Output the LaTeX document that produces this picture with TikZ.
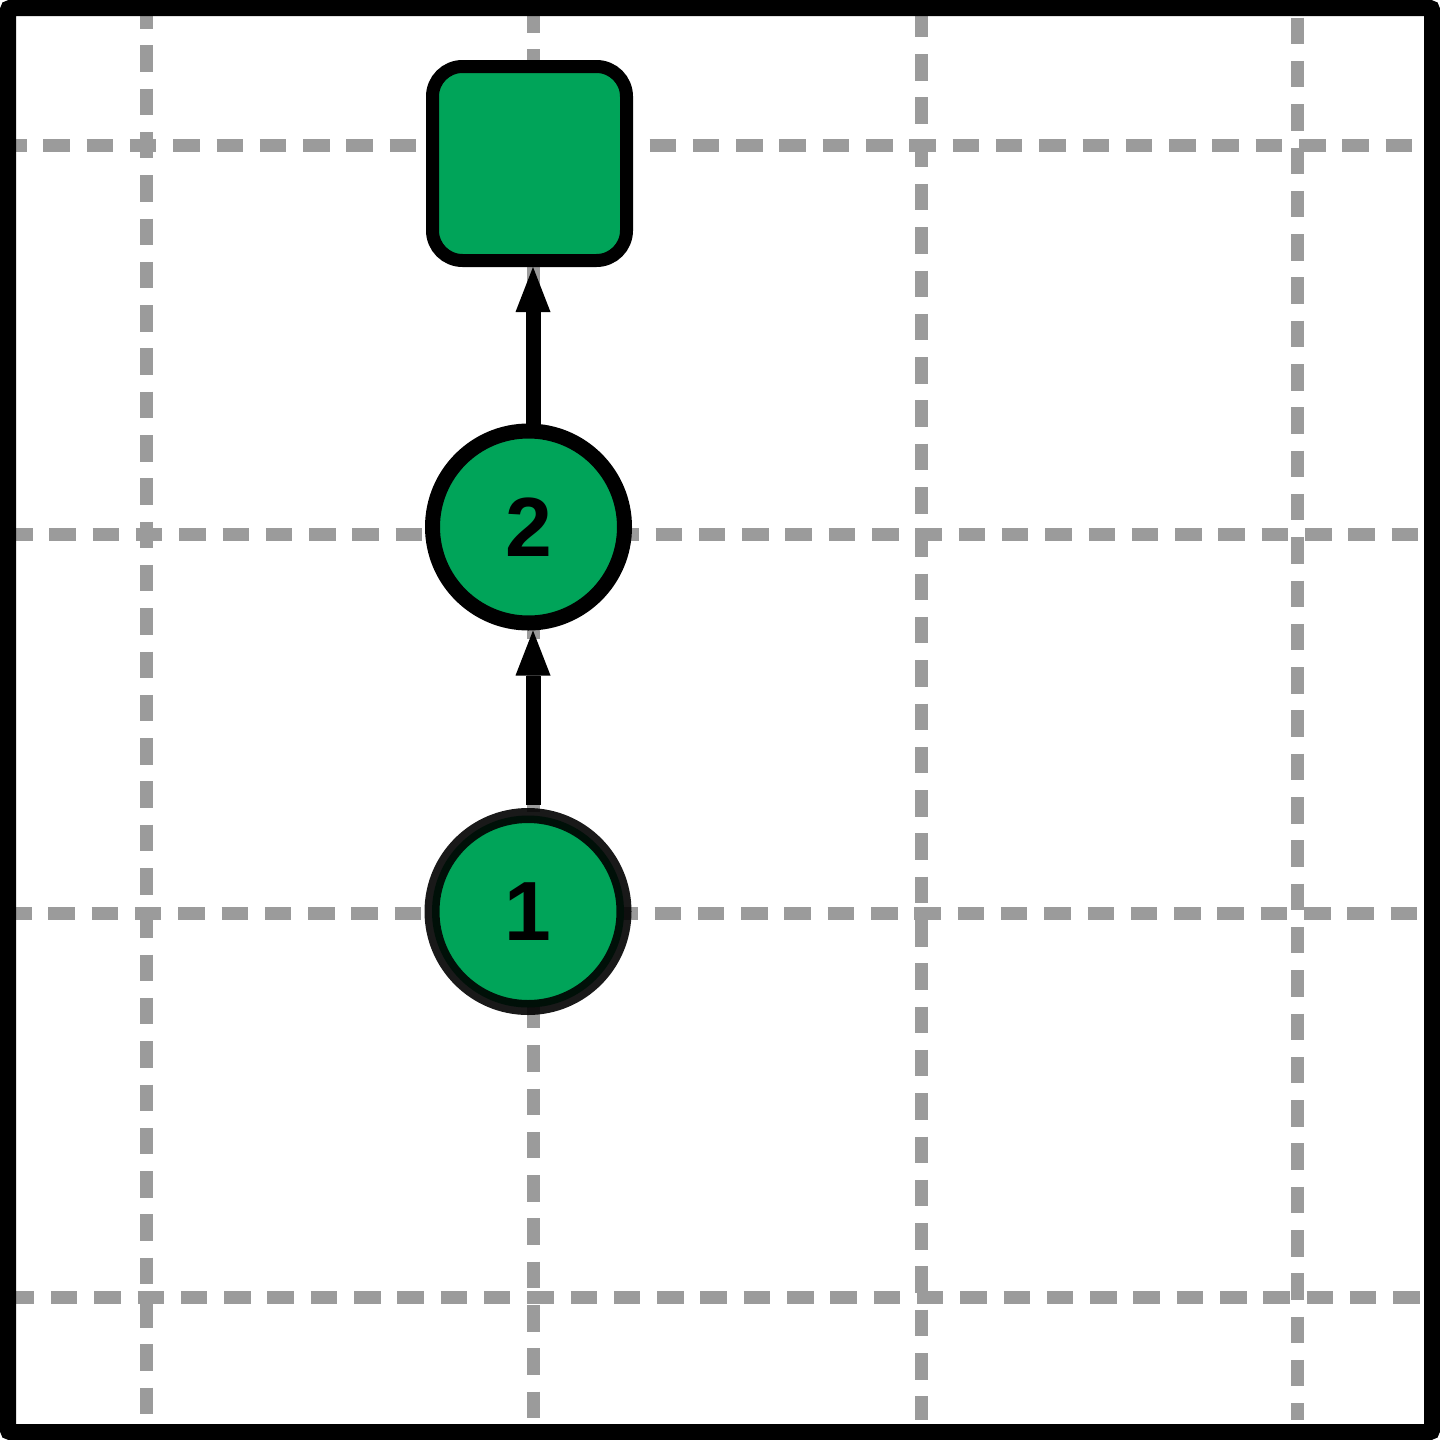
\documentclass[tikz,border=0pt]{standalone}
\usepackage{fontspec}
\setmainfont{Liberation Sans}
\usetikzlibrary{arrows.meta}
\definecolor{nodegreen}{RGB}{0,164,89}
\definecolor{gridgray}{RGB}{155,155,155}
\tikzset{
  gridline/.style={draw=gridgray, line width=13pt, dash pattern=on 26.5pt off 16.8pt},
  state/.style={circle, fill=nodegreen, draw=black, line width=15pt, minimum size=192pt,
    inner sep=0pt, font=\fontsize{84}{84}\selectfont\bfseries},
  goal/.style={rectangle, fill=nodegreen, draw=black, line width=13pt, minimum size=194pt,
    rounded corners=30pt, inner sep=0pt},
  link/.style={draw=black, line width=15pt,
    -{Triangle[length=45pt,width=35pt,line width=0pt]}},
}
\begin{document}
\begin{tikzpicture}[x=1pt, y=-1pt]
  \useasboundingbox (0,0) rectangle (1440,1440);
  \fill[white] (0,0) rectangle (1440,1440);

  % dashed grid
  \draw[gridline, dash phase=14pt] (146,16) -- (146,1420);
  \draw[gridline, dash phase=10pt] (533,16) -- (533,1420);
  \draw[gridline, dash phase=5.3pt] (921,16) -- (921,1420);
  \draw[gridline, dash phase=41.7pt] (1297,16) -- (1297,1420);
  \draw[gridline, dash phase=16pt] (16,145) -- (1420,145);
  \draw[gridline, dash phase=10pt] (16,534) -- (1420,534);
  \draw[gridline, dash phase=11pt] (16,913) -- (1420,913);
  \draw[gridline, dash phase=8.4pt] (16,1297) -- (1420,1297);

  % states
  \node[goal] (g) at (529.5,163.5) {};
  \node[state] (s2) at (528.5,527) {2};
  \node[state, draw opacity=0.9] (s1) at (528,911.5) {1};

  % transitions
  \draw[link] ([xshift=5pt, yshift=3pt]s1.north) -- ([xshift=4.5pt]s2.south);
  \draw[link] ([xshift=4.5pt]s2.north) -- ([xshift=3.5pt]g.south);

  % frame
  \draw[line width=16pt, rounded corners=2pt] (8,8) rectangle (1432,1432);
\end{tikzpicture}
\end{document}
